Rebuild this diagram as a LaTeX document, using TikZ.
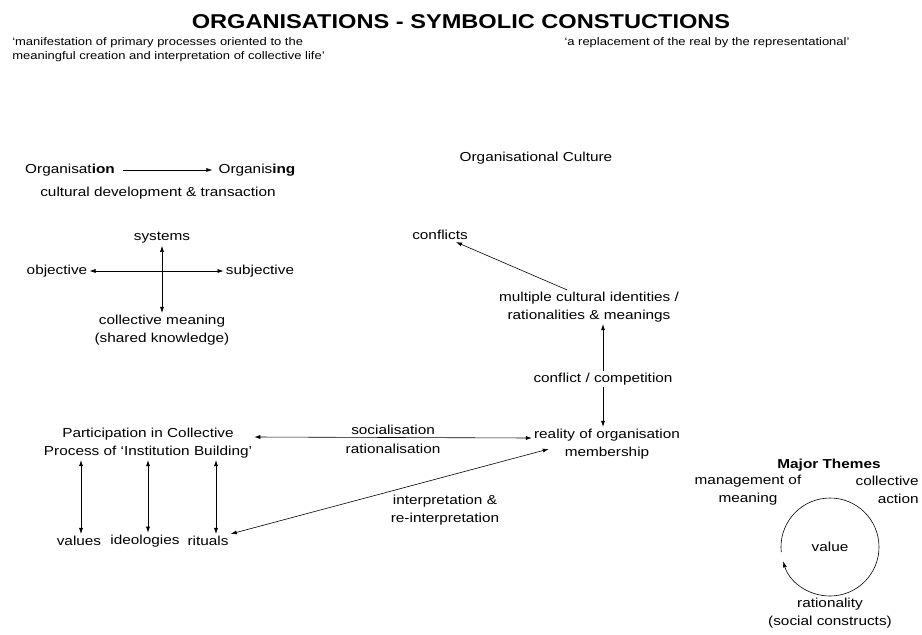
\documentclass[tikz,border=0pt]{standalone}
\usepackage{fontspec}
\setmainfont{Liberation Sans}[FakeStretch=1.18]
\usepackage{tikz}
\usetikzlibrary{positioning, calc, arrows.meta}
\newcommand{\Txt}{\fontsize{13}{17.5}\selectfont}
\newcommand{\QuoteTxt}{\fontsize{11}{14}\selectfont}

\begin{document}
\begin{tikzpicture}[>={Latex[length=6pt, width=4pt]}, x=1pt, y=-1pt, semithick,
    every node/.style={font=\Txt, align=center, inner sep=2pt}]
    \useasboundingbox (0,0) rectangle (922,635);

    \draw(461,22) node (T) {\fontsize{20}{24}\selectfont\bfseries ORGANISATIONS - SYMBOLIC CONSTUCTIONS};
    \draw(10,50) node[anchor=west, align=left, font=\QuoteTxt] (Q1)
    {`manifestation of primary processes oriented to the\\meaningful creation and interpretation of collective life'};
    \draw(707,43) node[font=\QuoteTxt] (Q2) {`a replacement of the real by the representational'};

    % organisation -> organising
    \draw(70,170) node (Org) {Organisat\textbf{ion}};
    \draw(257,170) node (Orgs) {Organis\textbf{ing}};
    \draw(158,193) node (Dev) {cultural development \& transaction};
    \draw[->, shorten <=6pt, shorten >=4pt] (Org) -- (Orgs);

    % the cross
    \draw(162,238) node (Sys) {systems};
    \draw(57,271) node (Obj) {objective};
    \draw(260,271) node (Subj) {subjective};
    \draw(162,330) node (Coll) {collective meaning\\(shared knowledge)};
    \draw[<->] (Obj) -- (Subj);
    \draw[<->] (Sys) -- (Coll);

    % organisational culture
    \draw(536,158) node (Cult) {Organisational Culture};
    \draw(440,235) node (Conf) {conflicts};
    \draw(589,307) node (Multi) {multiple cultural identities /\\rationalities \& meanings};
    \draw(603,379) node (Comp) {conflict / competition};
    \draw(607,444) node (Real) {reality of organisation\\membership};
    \draw[->] ([xshift=-22pt]Multi.north) -- ([xshift=-14pt]Conf.south east);
    \draw[->] (Comp) -- (Comp |- Multi.south);
    \draw[->] (Comp) -- (Comp |- Real.north);

    % institution building
    \draw(148,443) node (Part) {Participation in Collective\\Process of `Institution Building'};
    \draw(79,541) node (Val) {values};
    \draw(145,541) node (Ideo) {ideologies};
    \draw(208,541) node (Rit) {rituals};
    \draw[<->] ([yshift=6pt]Part.east) -- ([yshift=6pt]Real.west)
    node[midway, above=1pt] {socialisation} node[midway, below=4pt] {rationalisation};
    \draw[<->] ([xshift=2pt]Val.north |- Part.south) -- ([xshift=2pt]Val.north);
    \draw[<->] ([xshift=3pt]Ideo.north |- Part.south) -- ([xshift=3pt]Ideo.north);
    \draw[<->] ([xshift=8pt]Rit.north |- Part.south) -- ([xshift=8pt]Rit.north);
    \draw[<->] (Rit.north east) -- ([xshift=17pt, yshift=-5pt]Real.west);
    \draw(445,510) node (Interp) {interpretation \&\\re-interpretation};

    % major themes
    \draw(829,465) node (Major) {\textbf{Major Themes}};
    \coordinate (C) at (830,547);
    \draw(C) node (Value) {value};
    \draw[->] (C) ++(186:49pt) arc[start angle=186, end angle=-163, radius=49pt];
    \draw(748,490) node (Mgmt) {management of\\meaning};
    \draw(921,490) node[anchor=east, align=right] (Act) {collective\\action};
    \draw(830,613) node (Rat) {rationality\\(social constructs)};

\end{tikzpicture}
\end{document}
